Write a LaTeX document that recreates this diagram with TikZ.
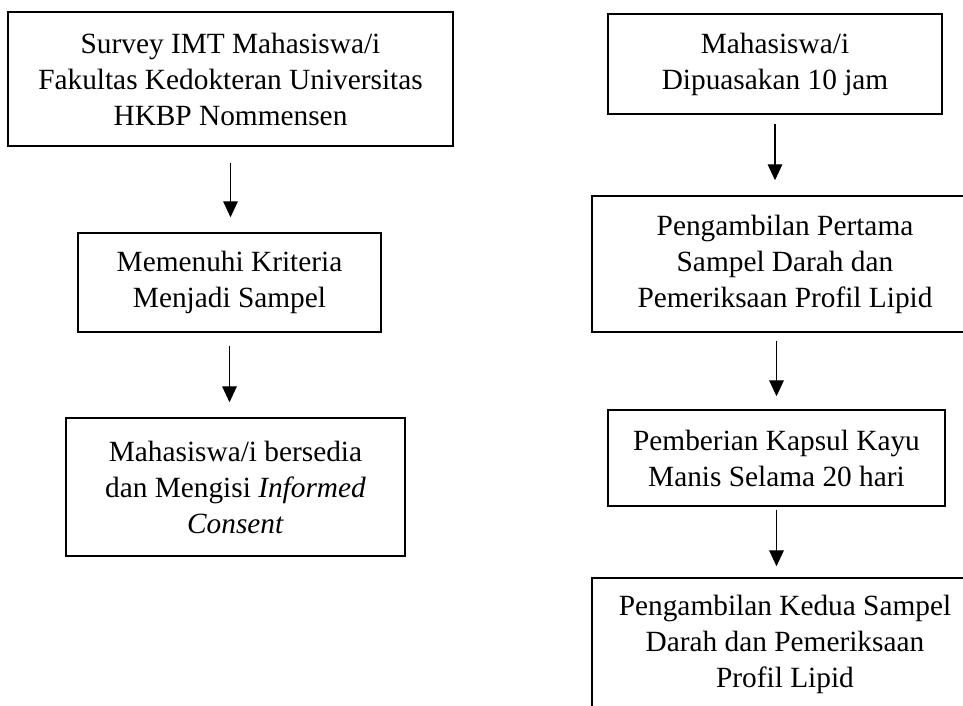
\documentclass[tikz,border=0pt]{standalone}
\usepackage{fontspec}
\setmainfont{Liberation Serif}
\usetikzlibrary{arrows.meta}

\begin{document}
\begin{tikzpicture}[x=0.75pt, y=-0.75pt,
  kotak/.style = {draw, line width=1.1pt, align=center, inner sep=0pt,
    font=\fontsize{22pt}{27pt}\selectfont},
  panah/.style = {-{Triangle[width=11pt, length=12pt]}, line width=0.8pt}]
\useasboundingbox (0,0) rectangle (963,706);
\clip (0,0) rectangle (963,706);
% kolom kiri
\node[kotak, minimum width=333.75pt, minimum height=100.5pt] (survey) at (230.5,79)
  {Survey IMT Mahasiswa/i\\Fakultas Kedokteran Universitas\\HKBP Nommensen};
\node[kotak, minimum width=227.25pt, minimum height=74.25pt] (kriteria) at (229.5,282.5)
  {Memenuhi Kriteria\\Menjadi Sampel};
\node[kotak, minimum width=254.25pt, minimum height=103.5pt] (consent) at (235.5,487)
  {Mahasiswa/i bersedia\\dan Mengisi \textit{Informed}\\\textit{Consent}};
% kolom kanan
\node[kotak, minimum width=250.5pt, minimum height=75pt] (puasa) at (775,64)
  {Mahasiswa/i\\Dipuasakan 10 jam};
\node[kotak, minimum width=289.5pt, minimum height=102pt] (ambil1) at (785,264)
  {Pengambilan Pertama\\Sampel Darah dan\\Pemeriksaan Profil Lipid};
\node[kotak, minimum width=252.75pt, minimum height=72pt] (kapsul) at (776.5,458)
  {Pemberian Kapsul Kayu\\Manis Selama 20 hari};
\node[kotak, minimum width=289.5pt, minimum height=99pt] (ambil2) at (785,644)
  {Pengambilan Kedua Sampel\\Darah dan Pemeriksaan\\Profil Lipid};
% panah
\draw[panah, shorten <=12pt, shorten >=11.25pt] (survey.south) -- (survey.south |- kriteria.north);
\draw[panah, shorten <=9.75pt, shorten >=11.25pt] (kriteria.south) -- (kriteria.south |- consent.north);
\draw[panah, shorten <=6.75pt, shorten >=11.25pt] (puasa.south) -- (puasa.south |- ambil1.north);
\draw[panah, shorten <=6pt, shorten >=9.75pt] (kapsul.north |- ambil1.south) -- (kapsul.north);
\draw[panah, shorten <=2.25pt, shorten >=8.25pt] (kapsul.south) -- (kapsul.south |- ambil2.north);
\end{tikzpicture}
\end{document}
